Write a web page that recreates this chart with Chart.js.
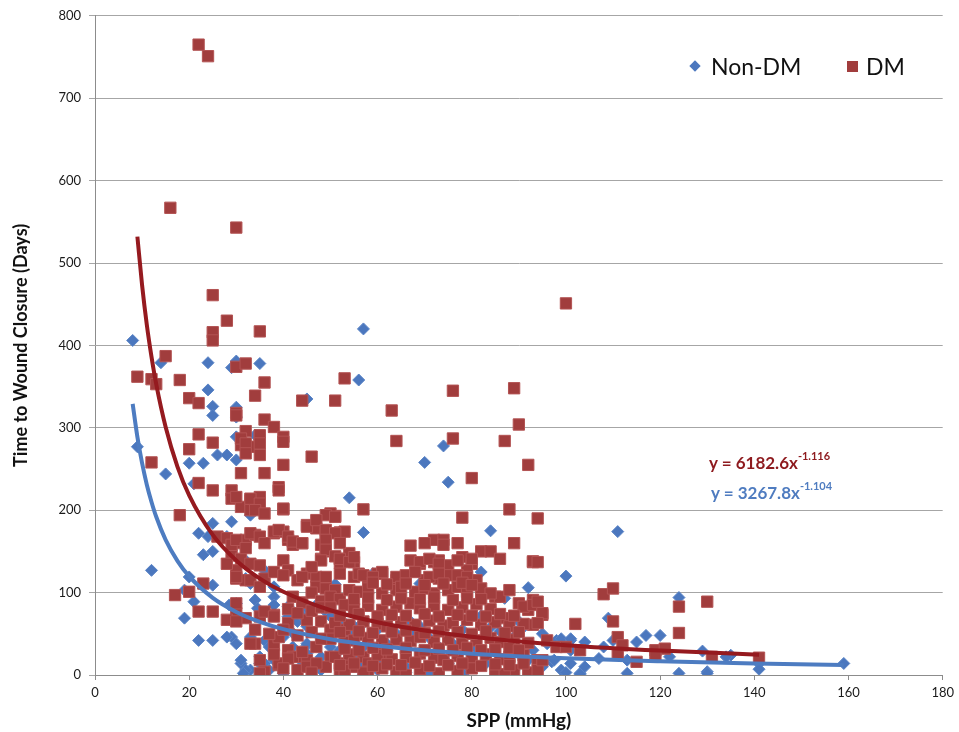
<!DOCTYPE html>
<html lang="en">
<head>
    <meta charset="UTF-8">
    <title>SPP vs Time to Wound Closure</title>
    <script src="https://cdn.jsdelivr.net/npm/chart.js"></script>
    <style>
        body { margin: 0; background: #fff; }
        #wrap { position: relative; width: 959px; height: 732px; }
        .lbl { position: absolute; font-family: Lato, "Open Sans", sans-serif; white-space: nowrap; }
        .eq { font-weight: bold; font-size: 17px; }
        .eq sup { font-size: 11px; position: relative; top: -2px; }
        .legend { font-size: 23px; color: #111; }
        .mk { display: inline-block; position: absolute; }
    </style>
</head>
<body>
<div id="wrap">
    <canvas id="sppChart"></canvas>
    <!-- legend -->
    <span class="mk" style="left:691px; top:62px; width:8px; height:8px; background:#4b77be; transform:rotate(45deg);"></span>
    <span class="lbl legend" style="left:711px; top:52px;">Non-DM</span>
    <span class="mk" style="left:847px; top:61px; width:11px; height:11px; background:#a13d3d;"></span>
    <span class="lbl legend" style="left:866px; top:52px;">DM</span>
    <!-- trend line equations -->
    <div class="lbl eq" style="left:709px; top:451px; color:#8e1a1e;">y = 6182.6x<sup>-1.116</sup></div>
    <div class="lbl eq" style="left:711px; top:481px; color:#4f7cc0;">y = 3267.8x<sup>-1.104</sup></div>
</div>

<script>
    // Non-DM (blue diamonds): [SPP, days]
    const nonDmPoints = [
        [8,406],[14,379],[24,379],[30,381],[29,373],[35,378],[24,346],[25,326],[25,315],[30,325],
        [30,313],[45,335],[30,289],[34,291],[9,277],[57,420],[56,358],[74,278],[70,258],[75,234],
        [54,215],[57,173],[84,175],[100,120],[92,106],[87,93],[51,110],[29,186],[33,194],
        [32,139],[36,127],[32,117],[33,111],[35,107],[38,107],[38,95],
        [28.5,85],[30,87],[34,91],[34.5,81],[36,75],[38,85],[41,71],[43,65],[44,77],[45,81],
        [47,85],[49,77],[50,71],[53,63],[55,59],[57,63],[60,55],
        [29,46],[30,38],[33,46],[36,42],[37,34],[40,46],[42,34],[45,36],[45,26],[48,22],
        [50,34],[52,30],[55,22],[57,34],[60,14],[31,14],[33,6],[36,14],[37,6],[44,12],[48,6],[60,6],
        [15,244],[12,127],[20,257],[23,257],[26,267],[28,267],[30,261],[21,232],[25,184],[22,172],
        [24,168],[28,168],[23,146],[25,150],[20,119],[19,103],[21,89],[25,109],[19,69],[22,42],
        [25,42],[28,46],[31,18],[32,6],[35,22],[35,14],[38,18],[41,83],[44,71],[45,59],[42,51],[45,38],
        [111,174],[109,69],[107,20],[108,34],[110,42],[113,2],[113,18],[115,40],[117,48],[120,48],
        [122,22],[124,94],[124,2],[129,29],[130,4],[135,24],[141,14],[141,7],[159,14],[134,22],
        [104,40],[101,42],[98,42],[96,38],[97,16],[99,6],[101,14],[103,2],[104,10],[101,30],[130,2],
        [59,123],[82,125],[69,111],[70,115],[82,72],[86,69],[90,65],[99,44],[101,44],
        [67,65],[69,59],[86,53],[89,46],
        [52.5,6],[57,14],[62,30],[66,10],[71,2],[75,14],[79,6],[83,14],[86,2],[89,6],[92,18],[95,10],[97.5,18],
        [54,51],[56,59],[62,38],[67,51],[73,34],[76,38],[81,32],[85,34],[88,26],[93,30],
        [31.5,2],[35,1],[40,2],[57,1],[66,3],[78,2],[87,0],[100,3],[103,1],
        [64,50],[71,45],[78,55],[84,58],[91,58],[95,50]
    ];

    // DM (red squares): [SPP, days]
    const dmPoints = [
        [22,765],[24,751],[16,567],[30,543],[100,451],[25,461],[28,430],[25,416],[25,406],[35,417],
        [15,387],[9,362],[12,359],[13,353],[18,358],[30,374],[32,378],[36,355],[20,336],[22,330],
        [34,339],[44,333],[51,333],[53,360],[30,318],[30,315],[36,310],[38,301],[40,289],[40,283],
        [32,296],[35,289],[22,292],[25,282],[20,274],[31,279],[33,277],[63,321],[76,345],[89,348],
        [90,304],[64,284],[76,287],[87,284],
        [12,258],[31,287],[32,281],[35,291],[35,281],[46,265],[32,269],[35,267],[40,255],[31,245],
        [36,245],[22,233],[25,224],[39,228],[29,224],[29,214],[31,204],[33,212],[35,216],[35,204],
        [33,200],[40,201],[18,194],
        [80,239],[92,255],[57,201],[51,193],[50,196],[78,191],[88,201],[94,190],[52,173],[89,160],
        [93,137],[108,98],[102,62],
        [30,216],[33,214],[35,208],[34,200],[36,196],[40,202],[39,224],[49,194],[51,192],[45,182],
        [47,178],[49,172],[53,174],[30,160],[32,164],[34,170],[38,172],[40,174],[41,164],[42,158],
        [44,160],[48,158],[49,150],[48,141],[52,141],[54,148],[55,137],[29,145],[31,141],[33,135],
        [35,133],[40,139],[41,127],[45,123],[47,119],[30,127],[30,117],[32,115],[36,117],[38,125],
        [40,121],[43,115],[47,107],[49,105],[51,103],[55,119],[56,123],[58,117],[60,123],[61,123],
        [30,75],[32,69],[35,71],[38,73],[41,63],[45,67],[48,65],[50,55],[53,55],[56,49],[59,51],
        [61,42],[34,38],[38,36],[41,30],[43,22],[45,18],[47,34],[50,22],[52,14],[54,18],[57,22],
        [58,14],[61,26],[36,4],[39,12],[43,6],[45,10],[49,10],[52,6],[55,10],[58,4],
        [26,168],[28,166],[29,158],[30,164],[32,154],[33,172],[35,168],[36,160],[38,174],[39,176],
        [41,168],[42,162],[44,160],[45,180],[47,188],[49,176],[51,172],[49,164],[52,160],[49,152],
        [51,144],[52,136],[48,139],[46,131],[44,119],[49,119],[52,123],[17,97],[20,101],[23,111],
        [22,77],[25,77],[28,135],[30,119],[30,87],[28,67],[30,65],[33,115],[35,107],[36,77],[38,71],
        [34,55],[39,46],[33,38],[35,18],[39,14],[42,22],
        [42,95],[44,88],[46,100],[48,90],[50,95],[41,80],[43,75],[46,78],[48,82],[52,92],
        [72,164],[74,164],[74,158],[77,160],[82,150],[84,150],[86,141],[93,138],[67,157],[70,160],
        [67,139],[69,135],[72,137],[73,139],[75,133],[78,143],[80,135],[79,127],[61,125],[64,115],
        [66,117],[70,115],[73,117],[75,121],[81,115],[85,95],[86,95],[90,87],[93,91],[92,79],
        [95,73],[93,61],[87,69],
        [52,141],[54,137],[55,143],[69,137],[71,141],[73,135],[77,139],[80,141],
        [57,121],[59,119],[64,119],[66,121],[68,125],[71,119],[73,123],[77,121],[79,119],
        [54,103],[56,101],[58,105],[61,99],[64,103],[65,107],[68,101],[70,105],[72,99],[75,103],
        [77,107],[79,101],[82,105],[84,99],[88,103],
        [50,82],[53,85],[55,80],[58,84],[61,79],[64,83],[67,87],[69,81],[72,84],[75,79],[78,82],
        [81,86],[84,80],[91,83],[93,85],
        [51,63],[54,61],[57,65],[60,62],[62,59],[65,64],[68,61],[71,66],[74,60],[76,63],[79,67],
        [82,61],[85,64],[88,59],[91,62],
        [50,44],[53,40],[55,42],[58,45],[64,43],[67,41],[69,46],[72,40],[75,43],[78,38],[81,42],
        [84,45],[86,40],[89,43],[92,39],
        [51,22],[54,25],[60,24],[63,19],[66,22],[69,26],[72,21],[74,18],[77,23],[80,20],[83,25],
        [86,19],[88,22],[91,24],[94,18],
        [53,6],[57,3],[61,8],[64,4],[69,7],[73,2],[77,5],[80,8],[85,4],[89,6],[92,3],[66,0],[35,2],[87,1],
        [94,137],[94,89],[95,75],[94,63],[110,105],[110,65],[111,46],[112,36],[111,26],[115,16],
        [119,30],[121,32],[119,24],[124,83],[124,51],[130,89],[131,22],[141,21],[96,42],[98,34],
        [100,34],[103,30],[94,6],[95,18],
        [52,12],[55,14],[59,11],[62,13],[65,12],[68,15],[71,11],[75,12],[78,14],[82,11],[85,13],[88,12],[91,14],
        [53,32],[56,30],[59,33],[62,31],[66,33],[70,30],[73,32],[76,30],[79,33],[82,30],[85,31],[88,33],[90,30],
        [52,52],[56,53],[59,51],[63,52],[66,54],[70,51],[73,53],[77,52],[80,50],[83,53],[87,51],[90,52],
        [52,72],[56,74],[60,71],[63,73],[66,72],[70,74],[73,71],[77,73],[80,72],[83,71],[86,74],[89,72],
        [55,92],[58,94],[62,91],[65,93],[69,92],[72,94],[76,91],[79,93],[82,92],
        [59,112],[62,110],[66,111],[70,109],[74,111],[78,112],[80,109],
        [37,50],[40,55],[43,48],[46,52],[48,44],[38,25],[41,20],[44,28],[47,14],[40,8],[46,3]
    ];

    // power trend lines
    const dmTrendX = [9, 10, 11, 12, 13, 15, 17.5, 20, 25, 30, 35, 40, 50, 60, 70, 80, 100, 120, 141];
    const dmTrendY = [532, 473, 425, 386, 353, 301, 253, 218, 170, 139, 117, 101, 78.6, 64.1, 54, 46.5, 36.2, 29.6, 24.7];
    const nonDmTrendX = [8, 9, 10, 11, 12, 13, 15, 17.5, 20, 25, 30, 35, 40, 50, 60, 70, 80, 100, 120, 140, 159];
    const nonDmTrendY = [329, 289, 257, 231, 210, 192, 164, 138.6, 119.7, 93.6, 76.5, 64.5, 55.7, 43.5, 35.6, 30.0, 25.9, 20.2, 16.6, 14.0, 12.1];

    const toXY = arr => arr.map(p => ({ x: p[0], y: p[1] }));
    const zipXY = (xs, ys) => xs.map((x, i) => ({ x: x, y: ys[i] }));

    const fontFamily = 'Lato, "Open Sans", sans-serif';

    const ctx = document.getElementById('sppChart').getContext('2d');
    new Chart(ctx, {
        type: 'scatter',
        data: {
            datasets: [
                {
                    label: 'DM trend',
                    type: 'line',
                    data: zipXY(dmTrendX, dmTrendY),
                    borderColor: '#951a1f',
                    borderWidth: 4,
                    pointRadius: 0,
                    cubicInterpolationMode: 'monotone',
                    fill: false
                },
                {
                    label: 'Non-DM trend',
                    type: 'line',
                    data: zipXY(nonDmTrendX, nonDmTrendY),
                    borderColor: '#4d7cc1',
                    borderWidth: 4,
                    pointRadius: 0,
                    cubicInterpolationMode: 'monotone',
                    fill: false
                },
                {
                    label: 'DM',
                    data: toXY(dmPoints),
                    pointStyle: 'rect',
                    pointRadius: 8,
                    backgroundColor: '#a13d3d',
                    borderColor: '#b35353',
                    borderWidth: 1
                },
                {
                    label: 'Non-DM',
                    data: toXY(nonDmPoints),
                    pointStyle: 'rectRot',
                    pointRadius: 6,
                    backgroundColor: '#4b77be',
                    borderColor: '#5a84c6',
                    borderWidth: 1
                }
            ]
        },
        options: {
            responsive: true,
            maintainAspectRatio: false,
            animation: false,
            layout: { padding: { top: 15, right: 12, left: 0, bottom: 0 } },
            plugins: {
                legend: { display: false },
                tooltip: { enabled: false }
            },
            scales: {
                x: {
                    type: 'linear',
                    min: 0,
                    max: 180,
                    afterFit: s => { s.height = 57; },
                    ticks: { stepSize: 20, color: '#1a1a1a', padding: 5, font: { family: fontFamily, size: 13 } },
                    grid: { drawOnChartArea: false, drawTicks: true, tickLength: 5, color: '#8c8c8c' },
                    border: { color: '#8c8c8c', width: 1 },
                    title: {
                        display: true,
                        text: 'SPP (mmHg)',
                        color: '#111',
                        padding: { top: 3, bottom: 0 },
                        font: { family: fontFamily, size: 19, weight: 'bold' }
                    }
                },
                y: {
                    min: 0,
                    max: 800,
                    afterFit: s => { s.width = 95; },
                    ticks: { stepSize: 100, color: '#1a1a1a', padding: 8, font: { family: fontFamily, size: 13 } },
                    grid: { color: '#a6a6a6', lineWidth: 1, tickLength: 6 },
                    border: { color: '#8c8c8c', width: 1 },
                    title: {
                        display: true,
                        text: 'Time to Wound Closure (Days)',
                        color: '#111',
                        padding: { top: 10, bottom: 0 },
                        font: { family: fontFamily, size: 18, weight: 'bold' }
                    }
                }
            }
        }
    });
</script>
</body>
</html>
